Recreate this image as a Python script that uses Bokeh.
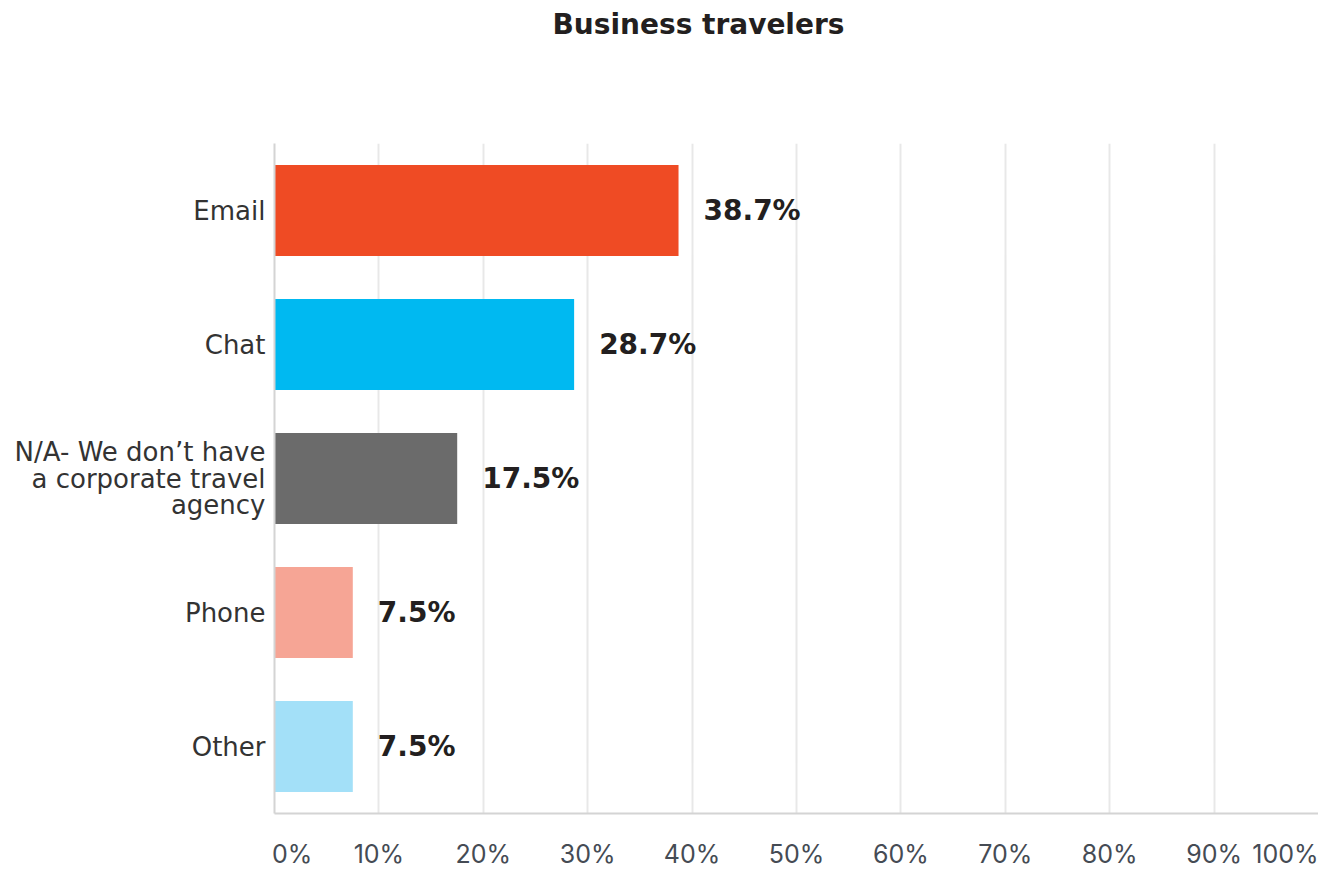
from bokeh.plotting import figure
from bokeh.models import FixedTicker, ColumnDataSource, Range1d, Title
from bokeh.core.properties import value
from bokeh.embed import file_html
from bokeh.resources import INLINE

title_text = "Business travelers"
categories = ["Email", "Chat", "N/A- We don\u2019t have\na corporate travel\nagency", "Phone", "Other"]
values = [38.7, 28.7, 17.5, 7.5, 7.5]
value_labels = ["38.7%", "28.7%", "17.5%", "7.5%", "7.5%"]
colors = ["#EF4B24", "#00B9F1", "#6B6B6B", "#F6A595", "#A3E0F8"]
ticks = [0, 10, 20, 30, 40, 50, 60, 70, 80, 90, 100]
tick_labels = ["0%", "10%", "20%", "30%", "40%", "50%", "60%", "70%", "80%", "90%", "100%"]

FONT = "DejaVu Sans"
TICK_FONT = "Inter"
NBSP = "\u00a0"

src = ColumnDataSource(dict(cat=categories, val=values, lab=value_labels, color=colors))

p = figure(
    y_range=list(reversed(categories)),
    x_range=Range1d(0, 100),
    frame_width=1044, frame_height=670,
    min_border_left=274, min_border_right=0, min_border_top=0, min_border_bottom=0,
    output_backend="svg", toolbar_location=None,
)
# spacer between the title and the plot area
p.add_layout(Title(text=" ", text_font_size="1px", standoff=95), "above")
p.title = Title(text=title_text, align="left", offset=278, standoff=10,
                text_font=FONT, text_font_size="28px", text_font_style="bold",
                text_color="#231F20")
p.outline_line_color = None
p.background_fill_color = "white"
p.border_fill_color = "white"

p.hbar(y="cat", right="val", left=0, height=0.68, color="color", line_color=None, source=src)
p.text(x="val", y="cat", text="lab", source=src, x_offset=25,
       text_baseline="middle", text_align="left",
       text_font=value(FONT), text_font_size="28px", text_font_style="bold",
       text_color="#231F20")

# x axis; the first label is padded so that it starts at the axis like the original
p.xaxis.ticker = FixedTicker(ticks=ticks)
overrides = {t: l for t, l in zip(ticks, tick_labels)}
overrides[ticks[0]] = NBSP * 5 + tick_labels[0]
p.xaxis.major_label_overrides = overrides
p.xaxis.major_label_text_font = TICK_FONT
p.xaxis.major_label_text_font_size = "25px"
p.xaxis.major_label_text_color = "#454B54"
p.xaxis.major_label_standoff = 19
p.xaxis.major_tick_line_color = None
p.xaxis.minor_tick_line_color = None
p.xaxis.axis_line_color = "#D4D4D4"
p.xaxis.axis_line_width = 2

# y axis
p.yaxis.major_label_text_font = FONT
p.yaxis.major_label_text_font_size = "26px"
p.yaxis.major_label_text_line_height = 0.88
p.yaxis.major_label_text_color = "#333333"
p.yaxis.major_label_standoff = 3
p.yaxis.major_tick_line_color = None
p.yaxis.minor_tick_line_color = None
p.yaxis.axis_line_color = "#D4D4D4"
p.yaxis.axis_line_width = 2

p.xgrid.grid_line_color = "#E8E8E8"
p.xgrid.grid_line_width = 2
p.ygrid.grid_line_color = None

open("out.html", "w").write(file_html(p, INLINE))
